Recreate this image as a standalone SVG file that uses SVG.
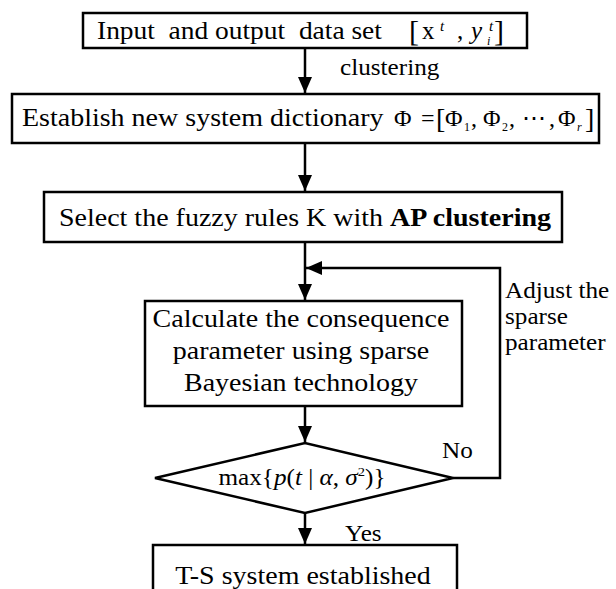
<svg xmlns="http://www.w3.org/2000/svg" width="616" height="589" viewBox="0 0 616 589">
  <style>
    .box { fill: #fff; stroke: #000; stroke-width: 2.5; }
    .line { fill: none; stroke: #000; stroke-width: 2.5; }
    text { font-family: "Liberation Serif", "Times New Roman", serif; fill: #000; }
    .t { font-size: 25px; }
    .lbl { font-size: 22.5px; }
    .m { font-size: 24px; }
    .sub { font-size: 12px; }
    .it { font-style: italic; }
    .mid { text-anchor: middle; }
  </style>
  <defs>
    <marker id="arrow" markerUnits="userSpaceOnUse" markerWidth="16" markerHeight="14" refX="16" refY="7" orient="auto">
      <path d="M0,0 L16,7 L0,14 Z" fill="#000"/>
    </marker>
  </defs>

  <g id="connectors">
    <line class="line" x1="305" y1="48" x2="305" y2="93" marker-end="url(#arrow)"/>
    <line class="line" x1="305" y1="143" x2="305" y2="191" marker-end="url(#arrow)"/>
    <line class="line" x1="305" y1="242" x2="305" y2="300" marker-end="url(#arrow)"/>
    <line class="line" x1="305" y1="406" x2="305" y2="442" marker-end="url(#arrow)"/>
    <line class="line" x1="305" y1="513" x2="305" y2="544" marker-end="url(#arrow)"/>
    <polyline class="line" points="453,478 500,478 500,268 306,268" marker-end="url(#arrow)"/>
    <text class="lbl" transform="translate(340 75) scale(1.12 1)">clustering</text>
    <text class="lbl" transform="translate(505 298) scale(1.12 1)">Adjust the</text>
    <text class="lbl" transform="translate(505 324) scale(1.12 1)">sparse</text>
    <text class="lbl" transform="translate(505 350) scale(1.12 1)">parameter</text>
    <text class="lbl" transform="translate(442 458) scale(1.12 1)">No</text>
    <text class="lbl" transform="translate(345 541) scale(1.12 1)">Yes</text>
  </g>

  <g id="input-data">
    <rect class="box" x="83" y="13" width="444" height="35"/>
    <text class="t" transform="translate(97 39) scale(1.12 1)" style="font-size:24.5px" xml:space="preserve">Input  and output  data set</text>
    <text x="409" y="41" style="font-size:30px">[</text>
    <text class="t" x="422" y="39">x</text>
    <text class="it" x="440" y="31" style="font-size:15px">t</text>
    <text class="t" x="457" y="39">,</text>
    <text class="t it" x="471" y="39">y</text>
    <text class="it" x="487" y="45" style="font-size:12px">i</text>
    <text class="it" x="489" y="31" style="font-size:15px">t</text>
    <text x="494" y="41" style="font-size:30px">]</text>
  </g>

  <g id="dictionary">
    <rect class="box" x="12" y="94" width="587" height="49"/>
    <text class="t" transform="translate(22 126) scale(1.12 1)">Establish new system dictionary</text>
    <text class="m" x="394" y="126">Φ</text>
    <text class="m" x="421" y="126">=</text>
    <text x="436" y="128" style="font-size:28px">[</text>
    <text class="m" x="445" y="126">Φ</text>
    <text class="sub" x="464" y="131">1</text>
    <text class="m" x="471" y="126">,</text>
    <text class="m" x="483" y="126">Φ</text>
    <text class="sub" x="502" y="131">2</text>
    <text class="m" x="509" y="126">,</text>
    <text class="m" x="522" y="126">⋯</text>
    <text class="m" x="549" y="126">,</text>
    <text class="m" x="558" y="126">Φ</text>
    <text class="sub it" x="577" y="131">r</text>
    <text x="585" y="128" style="font-size:28px">]</text>
  </g>

  <g id="select-rules">
    <rect class="box" x="44" y="192" width="518" height="50"/>
    <text class="t mid" transform="translate(305 226) scale(1.12 1)">Select the fuzzy rules K with <tspan font-weight="bold">AP clustering</tspan></text>
  </g>

  <g id="calculate">
    <rect class="box" x="145" y="301" width="317" height="105"/>
    <text class="t mid" transform="translate(301 327) scale(1.12 1)">Calculate the consequence</text>
    <text class="t mid" transform="translate(301 359) scale(1.12 1)">parameter using sparse</text>
    <text class="t mid" transform="translate(301 391) scale(1.12 1)">Bayesian technology</text>
  </g>

  <g id="max-likelihood">
    <polygon class="box" points="155,478 305,443 453,478 305,513"/>
    <text class="mid" transform="translate(302 485) scale(1.12 1)" style="font-size:22.5px">max{<tspan class="it">p</tspan>(<tspan class="it">t</tspan> | <tspan class="it">α</tspan>, <tspan class="it">σ</tspan><tspan dy="-9" style="font-size:13px">2</tspan><tspan dy="9">)}</tspan></text>
  </g>

  <g id="ts-system">
    <rect class="box" x="153" y="545" width="304" height="60"/>
    <text class="t mid" transform="translate(303 584) scale(1.12 1)">T-S system established</text>
  </g>
</svg>
